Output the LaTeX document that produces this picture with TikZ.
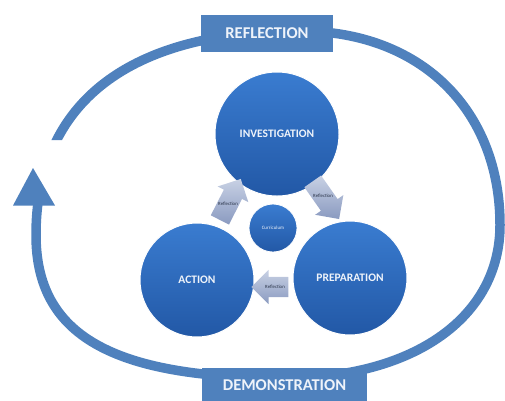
\documentclass[tikz,border=0pt]{standalone}
\usepackage{fontspec}
\setmainfont{Carlito}
\usetikzlibrary{shapes.arrows}
\definecolor{ringblue}{RGB}{79,129,189}
\definecolor{circtop}{RGB}{58,124,208}
\definecolor{circbot}{RGB}{34,88,166}
\definecolor{arrtop}{RGB}{200,209,228}
\definecolor{arrbot}{RGB}{138,154,192}
\definecolor{txtlight}{RGB}{238,243,250}
\definecolor{arrtext}{RGB}{40,50,70}
\begin{document}
\begin{tikzpicture}[x=1pt,y=-1pt,
  ring/.style={draw=ringblue, line width=9.5pt},
  bigcirc/.style={circle, top color=circtop, bottom color=circbot, draw=white, line width=1pt,
    text=txtlight, font=\bfseries\fontsize{11.5}{12}\selectfont, inner sep=0pt},
  smallcirc/.style={circle, top color=circtop, bottom color=circbot, draw=white, line width=0.8pt,
    text=txtlight, font=\fontsize{5}{6}\selectfont, inner sep=0pt, minimum size=48pt},
  labelbox/.style={rectangle, fill=ringblue, text=txtlight, font=\bfseries\fontsize{16.5}{18}\selectfont,
    inner sep=0pt},
  blockarrow/.style={single arrow, top color=arrtop, bottom color=arrbot, draw=none,
    minimum height=46pt, inner xsep=0pt, inner ysep=10pt, single arrow head extend=7pt},
  arrlabel/.style={font=\fontsize{4.8}{5}\selectfont, text=arrtext, inner sep=0pt}
]
\useasboundingbox (0,0) rectangle (505,400);

% outer ring
\coordinate (T) at (300,31);
\coordinate (R) at (500,225);
\coordinate (B) at (285,378);
\coordinate (L) at (36,235);
\begin{scope}
  \clip (0,0) -- (505,0) -- (505,400) -- (0,400) -- (0,205) -- (85,205) -- (85,140) -- (0,140) -- cycle;
  \draw[ring] (T) .. controls (420,31) and (500,109) .. (R)
              .. controls (500,317) and (414,378) .. (B)
              .. controls (112,378) and (36,335) .. (L)
              .. controls (36,102) and (130,31) .. (T) -- cycle;
\end{scope}
\coordinate (tip) at (33,168);
\coordinate (hl) at (13,205.5);
\coordinate (hr) at (55,205.5);
\fill[ringblue] (hl) -- (tip) -- (hr) -- cycle;

% boxes
\node[labelbox, minimum width=132pt, minimum height=37pt] (refl) at (267,33) {REFLECTION};
\node[labelbox, minimum width=165pt, minimum height=34pt] (demo) at (284.5,385) {DEMONSTRATION};

% circles
\node[bigcirc, minimum size=124pt] (inv) at (277,134) {INVESTIGATION};
\node[bigcirc, minimum size=114pt] (act) at (197,280) {ACTION};
\node[bigcirc, minimum size=114pt] (prep) at (350,278) {PREPARATION};
\node[smallcirc] (cur) at (273,228) {Curriculum};

% block arrows
\node[blockarrow, rotate=63] (a1) at (228,204) {};
\node[arrlabel] (t1) at (a1.center) {Reflection};
\node[blockarrow, rotate=-55] (a2) at (323,196) {};
\node[arrlabel] (t2) at (a2.center) {Reflection};
\node[blockarrow, rotate=180, minimum height=37pt] (a3) at (275,287) {};
\node[arrlabel] (t3) at (a3.center) {Reflection};
\end{tikzpicture}
\end{document}
